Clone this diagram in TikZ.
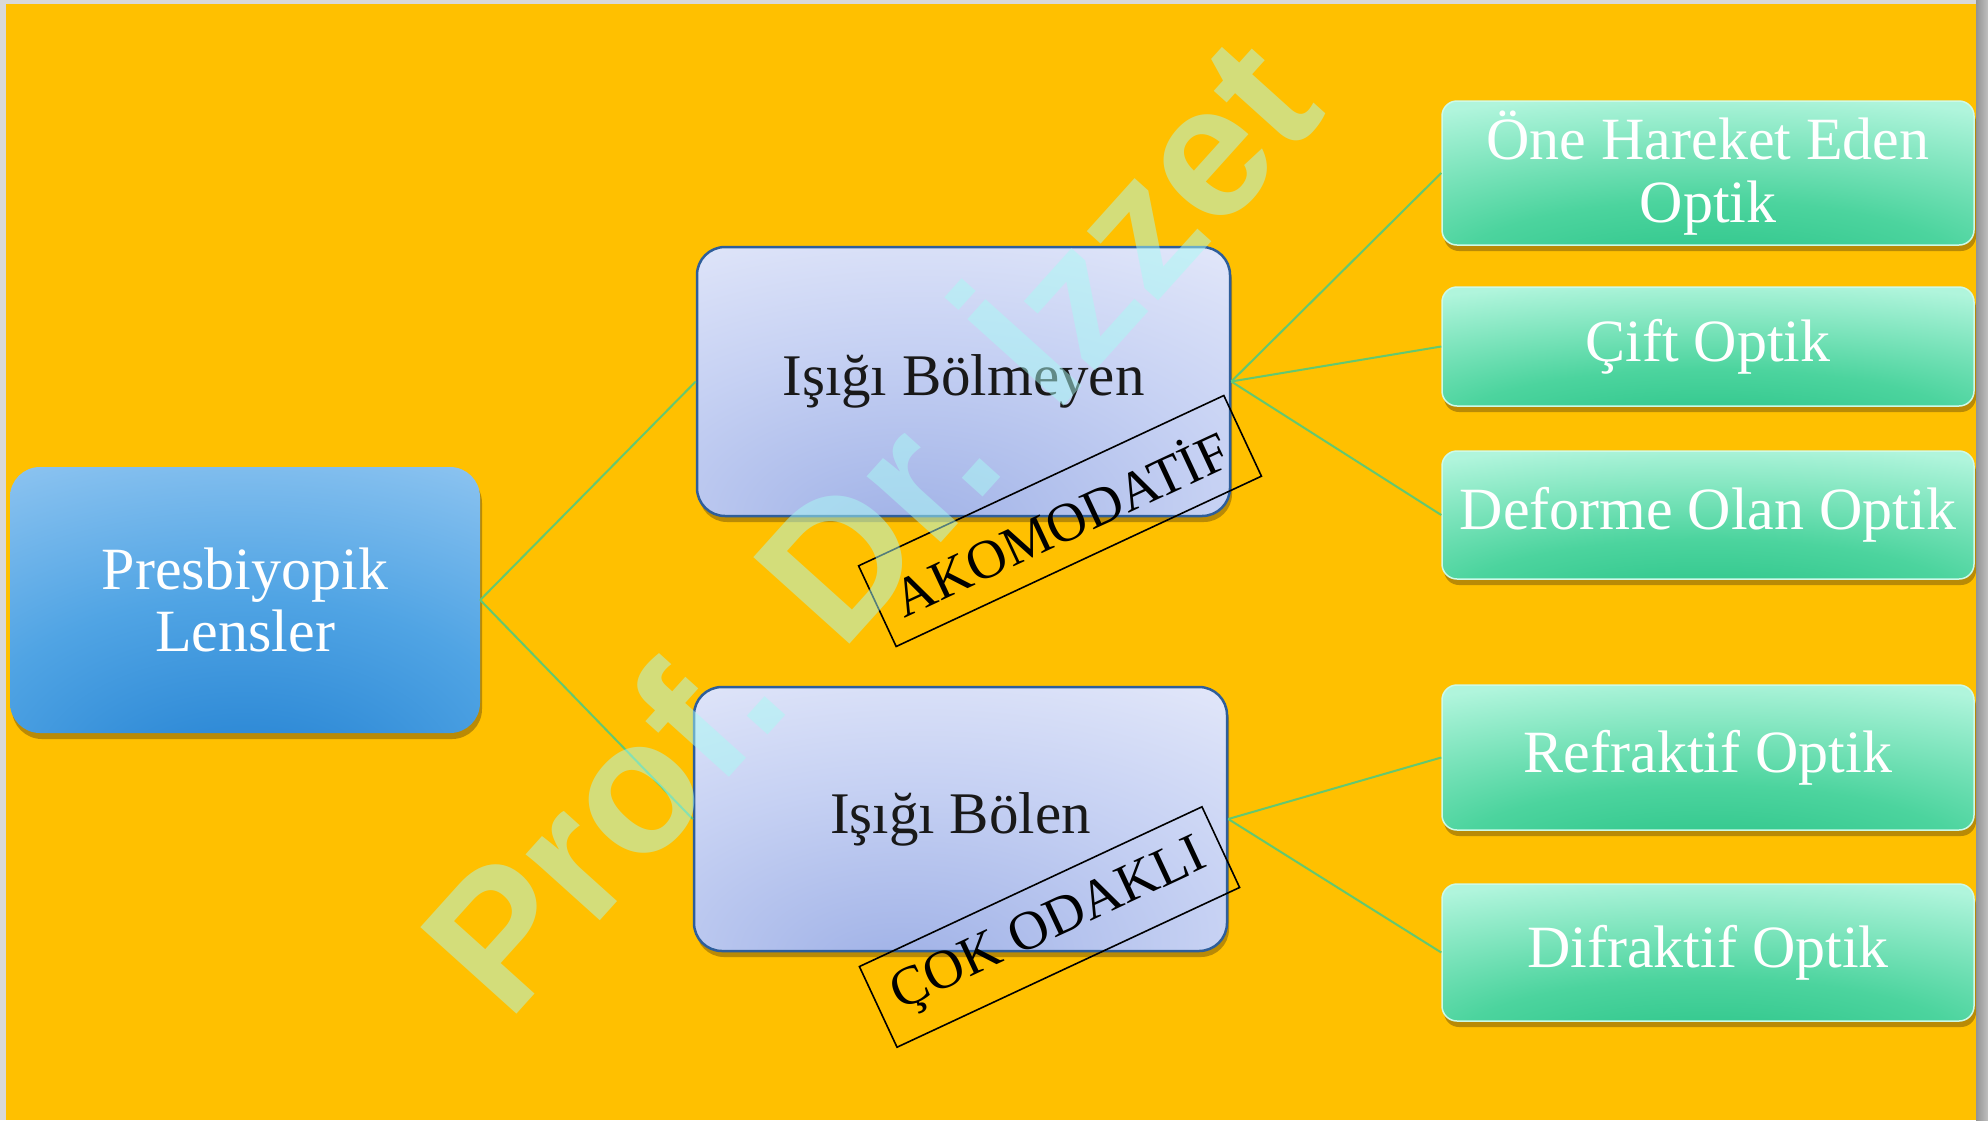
\documentclass[tikz,border=0pt]{standalone}
\usepackage{fontspec}
\setmainfont{Liberation Serif}
\newfontfamily\wmfont{Liberation Sans}
\usetikzlibrary{shadows}
\definecolor{bgorange}{RGB}{255,192,0}
\definecolor{rootdark}{RGB}{26,122,206}
\definecolor{rootmid}{RGB}{80,164,228}
\definecolor{rootlight}{RGB}{168,210,246}
\definecolor{midedge}{RGB}{46,94,154}
\definecolor{middark}{RGB}{158,176,230}
\definecolor{midmid}{RGB}{198,209,243}
\definecolor{midlight}{RGB}{240,242,253}
\definecolor{grdark}{RGB}{30,190,128}
\definecolor{grmid}{RGB}{76,212,158}
\definecolor{grlight}{RGB}{176,245,220}
\definecolor{gredge}{RGB}{205,250,232}
\definecolor{conn}{RGB}{100,200,112}
\definecolor{wmcol}{RGB}{169,250,244}
\pgfdeclareradialshading{rootglow}{\pgfpoint{0bp}{-42bp}}{color(0bp)=(rootdark); color(30bp)=(rootmid); color(62bp)=(rootlight); color(100bp)=(rootlight)}
\pgfdeclareradialshading{midglow}{\pgfpoint{-6bp}{-30bp}}{color(0bp)=(middark); color(28bp)=(midmid); color(60bp)=(midlight); color(100bp)=(midlight)}
\pgfdeclareradialshading{greenglow}{\pgfpoint{0bp}{-44bp}}{color(0bp)=(grdark); color(24bp)=(grmid); color(50bp)=(grlight); color(100bp)=(grlight)}
\tikzset{
  boxshadow/.style={drop shadow={shadow xshift=2pt, shadow yshift=-6pt, opacity=0.35, fill=black!70!brown}},
  rootbox/.style={rectangle, rounded corners=30pt, minimum width=470pt, minimum height=266pt, shading=rootglow, boxshadow, text=white, align=center, font=\fontsize{60}{62}\selectfont},
  midbox/.style={rectangle, rounded corners=28pt, minimum width=533pt, draw=midedge, line width=2.5pt, shading=midglow, boxshadow, text=black!90, align=center, font=\fontsize{59}{62}\selectfont},
  leafbox/.style={rectangle, rounded corners=15pt, minimum width=532pt, draw=gredge, line width=1.5pt, shading=greenglow, boxshadow, text=white, align=center, font=\fontsize{60}{63}\selectfont, inner sep=2pt},
  stampbox/.style={rectangle, draw=black, line width=1.6pt, minimum width=403pt, minimum height=89pt, inner sep=0pt, text=black, font=\fontsize{55}{57}\selectfont},
  link/.style={draw=conn, line width=2pt}
}
\begin{document}
\begin{tikzpicture}[x=1pt,y=-1pt]
\useasboundingbox (0,0) rectangle (1988,1120);
% background
\fill[black!15] (0,0) rectangle (1988,1120);
\fill[bgorange] (6,4) rectangle (1976,1120);
\shade[left color=black!42, right color=black!25] (1976,0) rectangle (1988,1120);

% nodes
\node[rootbox] (root) at (245,600) {Presbiyopik\\Lensler};
\node[midbox, minimum height=269pt] (bolmeyen) at (963.5,381.5) {Işığı Bölmeyen};
\node[midbox, minimum height=264pt] (bolen) at (960.5,819) {Işığı Bölen};
\node[leafbox, minimum height=144pt] (one) at (1708,173) {Öne Hareket Eden\\Optik};
\node[leafbox, minimum height=119pt] (cift) at (1708,346.5) {Çift Optik};
\node[leafbox, minimum height=128pt] (deforme) at (1708,515) {Deforme Olan Optik};
\node[leafbox, minimum height=145pt] (refraktif) at (1708,757.5) {Refraktif Optik};
\node[leafbox, minimum height=137pt] (difraktif) at (1708,952.5) {Difraktif Optik};

% connectors
\draw[link] (root.east) -- (bolmeyen.west);
\draw[link] (root.east) -- (bolen.west);
\draw[link] (bolmeyen.east) -- (one.west);
\draw[link] (bolmeyen.east) -- (cift.west);
\draw[link] (bolmeyen.east) -- (deforme.west);
\draw[link] (bolen.east) -- (refraktif.west);
\draw[link] (bolen.east) -- (difraktif.west);

% stamps
\node[stampbox, rotate=25] (akom) at (1060,521) {AKOMODATİF};
\node[stampbox, rotate=25, minimum width=378pt] (cok) at (1049.5,927) {ÇOK ODAKLI};

% watermark
\node[rotate=48, text=wmcol, text opacity=0.5, font=\wmfont\bfseries\fontsize{188}{188}\selectfont, inner sep=0pt] (wm) at (859,515) {Prof. Dr. İzzet};
\end{tikzpicture}
\end{document}
